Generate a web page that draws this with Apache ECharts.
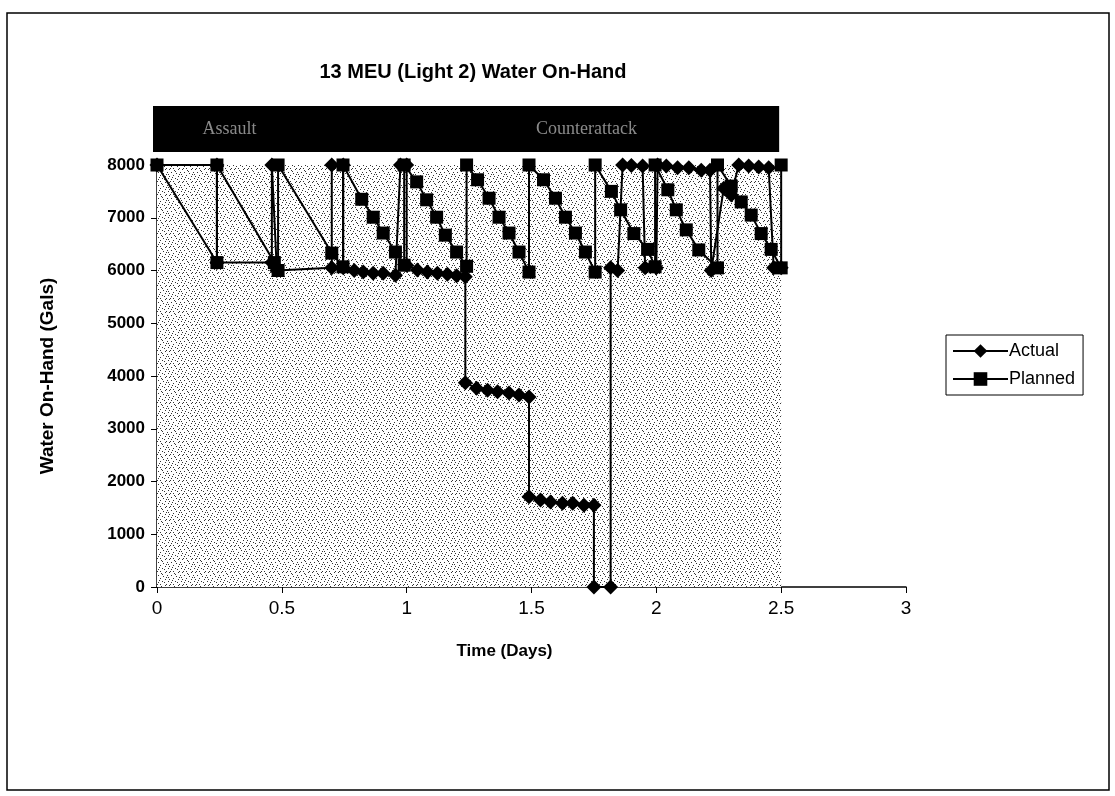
<!DOCTYPE html>
<html>
<head>
<meta charset="utf-8">
<script src="https://cdn.jsdelivr.net/npm/echarts@6/dist/echarts.min.js"></script>
<style>
html, body { margin: 0; padding: 0; background: #fff; }
#container { width: 1115px; height: 796px; }
</style>
</head>
<body>
<div id="container"></div>
<script>
// time in days, water in gallons
var plannedData = [
    [0, 8000], [0.24, 6150], [0.24, 8000], [0.47, 6150], [0.485, 6000], [0.485, 8000],
    [0.70, 6330], [0.745, 6070], [0.745, 8000], [0.82, 7350], [0.866, 7010], [0.906, 6710],
    [0.955, 6350], [0.99, 6100], [0.99, 8000], [1.04, 7680], [1.08, 7340], [1.12, 7010],
    [1.155, 6670], [1.2, 6350], [1.24, 6080], [1.24, 8000], [1.284, 7720], [1.33, 7370],
    [1.37, 7010], [1.41, 6710], [1.45, 6350], [1.49, 5970], [1.49, 8000], [1.548, 7720],
    [1.596, 7370], [1.636, 7010], [1.676, 6710], [1.716, 6350], [1.755, 5970], [1.755, 8000],
    [1.82, 7500], [1.857, 7150], [1.91, 6700], [1.965, 6400], [1.995, 6070], [1.995, 8000],
    [2.046, 7530], [2.08, 7150], [2.12, 6770], [2.17, 6390], [2.245, 6050], [2.245, 8000],
    [2.3, 7600], [2.34, 7300], [2.38, 7050], [2.42, 6700], [2.46, 6400], [2.5, 6050], [2.5, 8000]
];
var actualData = [
    [0, 8000], [0.24, 8000], [0.24, 6150], [0.46, 6150], [0.46, 8000], [0.48, 6000],
    [0.70, 6050], [0.70, 8000], [0.746, 8000], [0.746, 6050], [0.79, 6000], [0.826, 5970],
    [0.866, 5950], [0.906, 5950], [0.955, 5910], [0.975, 8000], [1.0, 8000], [1.0, 6100],
    [1.043, 6010], [1.083, 5970], [1.123, 5950], [1.163, 5930], [1.2, 5900], [1.235, 5880],
    [1.235, 3870], [1.28, 3770], [1.324, 3730], [1.364, 3700], [1.41, 3680], [1.45, 3640],
    [1.49, 3600], [1.49, 1710], [1.536, 1650], [1.576, 1610], [1.624, 1590], [1.665, 1590],
    [1.71, 1550], [1.75, 1550], [1.75, 0], [1.817, 0], [1.817, 6050], [1.845, 6000],
    [1.865, 8000], [1.9, 7990], [1.945, 7980], [1.955, 6050], [2.0, 6050], [2.005, 8000],
    [2.04, 7980], [2.085, 7950], [2.13, 7950], [2.18, 7900], [2.215, 7900], [2.22, 6000],
    [2.27, 7560], [2.3, 7430], [2.33, 8000], [2.37, 7980], [2.41, 7960], [2.45, 7950],
    [2.47, 6050], [2.5, 6050]
];
var phaseNames = ['Assault', 'Counterattack'];
var phaseAt = [0.29, 1.72];
var shadeEnd = 2.5;

var font = "'Liberation Sans Narrow', 'Liberation Sans', Arial, sans-serif";

// fixed dot tile for the stippled plot background
function makeStipple() {
    var c = document.createElement('canvas');
    c.width = 13;
    c.height = 13;
    var ctx = c.getContext('2d');
    ctx.fillStyle = '#ffffff';
    ctx.fillRect(0, 0, 13, 13);
    ctx.fillStyle = '#333333';
    [[0, 0], [5, 1], [9, 0], [2, 3], [7, 4], [11, 3], [4, 6], [0, 7], [9, 7],
     [12, 9], [2, 10], [6, 9], [10, 12], [4, 12], [8, 10], [12, 5], [1, 12], [6, 2],
     [3, 8], [10, 5]].forEach(function (p) {
        ctx.fillRect(p[0], p[1], 1, 1);
    });
    return c;
}

var dom = document.getElementById('container');
var myChart = echarts.init(dom);

var option = {
    animation: false,
    backgroundColor: '#fff',
    title: {
        text: '13 MEU (Light 2) Water On-Hand',
        left: 468,
        top: 57,
        textAlign: 'center',
        textStyle: { fontFamily: font, fontSize: 20, fontWeight: 'bold', color: '#000' }
    },
    legend: {
        data: ['Actual', 'Planned'],
        orient: 'vertical',
        left: 946,
        top: 335,
        padding: [7, 8, 7, 6],
        itemGap: 10,
        itemWidth: 55,
        itemHeight: 17,
        borderColor: '#000',
        borderWidth: 1,
        backgroundColor: '#fff',
        textStyle: { fontFamily: font, fontSize: 18, color: '#000', padding: [0, 0, 0, -4] }
    },
    grid: {
        left: 157,
        right: 209,
        top: 165,
        bottom: 209
    },
    xAxis: {
        type: 'value',
        min: 0,
        max: 3,
        interval: 0.5,
        name: 'Time (Days)',
        nameLocation: 'middle',
        nameGap: 56,
        nameTextStyle: { fontFamily: font, fontSize: 17, fontWeight: 'bold', color: '#000', padding: [0, 54, 0, 0] },
        axisLine: { lineStyle: { color: '#000', width: 1.5 } },
        axisTick: { inside: false, length: 6, lineStyle: { color: '#000' } },
        axisLabel: { fontFamily: font, fontSize: 19, color: '#000', margin: 12 },
        splitLine: { show: false }
    },
    yAxis: {
        type: 'value',
        min: 0,
        max: 8000,
        interval: 1000,
        name: 'Water On-Hand (Gals)',
        nameLocation: 'middle',
        nameGap: 100,
        nameTextStyle: { fontFamily: font, fontSize: 19, fontWeight: 'bold', color: '#000' },
        axisLine: { show: true, lineStyle: { color: '#000', width: 1.5 } },
        axisTick: { show: true, length: 6, lineStyle: { color: '#000' } },
        axisLabel: {
            fontFamily: font, fontSize: 17, fontWeight: 'bold', color: '#000', margin: 12,
            formatter: function (v) { return String(v); }
        },
        splitLine: { show: false }
    },
    series: [
        {
            name: 'shade',
            type: 'line',
            data: [],
            z: 1,
            silent: true,
            markArea: {
                silent: true,
                itemStyle: { color: { image: makeStipple(), repeat: 'repeat' } },
                data: [[{ coord: [0, 0] }, { coord: [shadeEnd, 8000] }]]
            }
        },
        {
            name: 'Actual',
            type: 'line',
            data: actualData,
            z: 3,
            symbol: 'diamond',
            symbolSize: 15,
            itemStyle: { color: '#000' },
            lineStyle: { color: '#000', width: 2 }
        },
        {
            name: 'Planned',
            type: 'line',
            data: plannedData,
            z: 4,
            symbol: 'rect',
            symbolSize: 13,
            itemStyle: { color: '#000' },
            lineStyle: { color: '#000', width: 2 }
        }
    ]
};

myChart.setOption(option);

// outer frame and the phase band above the plot, placed from the axis scale
var x0 = myChart.convertToPixel({ xAxisIndex: 0 }, 0);
var x1 = myChart.convertToPixel({ xAxisIndex: 0 }, shadeEnd);
var yTop = myChart.convertToPixel({ yAxisIndex: 0 }, 8000);
var graphics = [
    {
        type: 'rect',
        shape: { x: 7, y: 13, width: 1102, height: 777 },
        style: { fill: 'none', stroke: '#000', lineWidth: 1.5 },
        z: 0
    },
    {
        type: 'rect',
        shape: { x: x0 - 4, y: yTop - 59, width: x1 - x0 + 2, height: 46 },
        style: { fill: '#000' },
        z: 5
    }
];
for (var i = 0; i < phaseNames.length; i++) {
    graphics.push({
        type: 'text',
        x: myChart.convertToPixel({ xAxisIndex: 0 }, phaseAt[i]),
        y: yTop - 36,
        style: {
            text: phaseNames[i],
            fill: '#8a8a8a',
            font: '18px "Liberation Serif", "DejaVu Serif", serif',
            align: 'center',
            verticalAlign: 'middle'
        },
        z: 6
    });
}
myChart.setOption({ graphic: graphics });
</script>
</body>
</html>
